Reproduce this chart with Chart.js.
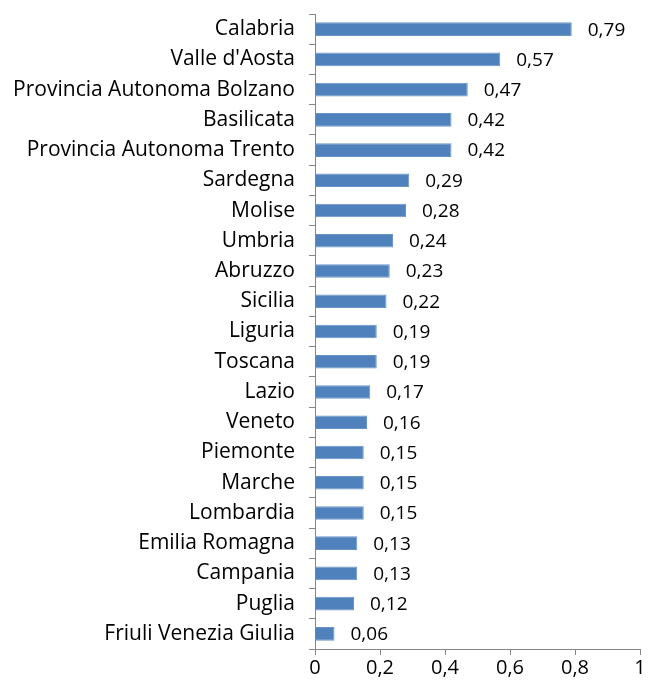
<!DOCTYPE html>
<html>
<head>
<meta charset="utf-8">
<script src="https://cdn.jsdelivr.net/npm/chart.js@4"></script>
<style>
  html, body { margin: 0; padding: 0; background: #fff; }
  #wrap { width: 648px; height: 689px; }
</style>
</head>
<body>
<div id="wrap"><canvas id="chart" width="648" height="689"></canvas></div>
<script>
const regions = ['Calabria', "Valle d'Aosta", 'Provincia Autonoma Bolzano', 'Basilicata',
    'Provincia Autonoma Trento', 'Sardegna', 'Molise', 'Umbria', 'Abruzzo', 'Sicilia',
    'Liguria', 'Toscana', 'Lazio', 'Veneto', 'Piemonte', 'Marche', 'Lombardia',
    'Emilia Romagna', 'Campania', 'Puglia', 'Friuli Venezia Giulia'];
const values = [0.79, 0.57, 0.47, 0.42, 0.42, 0.29, 0.28, 0.24, 0.23, 0.22,
    0.19, 0.19, 0.17, 0.16, 0.15, 0.15, 0.15, 0.13, 0.13, 0.12, 0.06];
const xTicks = [0, 0.2, 0.4, 0.6, 0.8, 1];

const FONT = '"Open Sans", sans-serif';
const comma = v => String(v).replace('.', ',');

const valueLabels = {
    id: 'valueLabels',
    afterDatasetsDraw(chart) {
        const ctx = chart.ctx;
        const meta = chart.getDatasetMeta(0);
        ctx.save();
        ctx.font = '19px ' + FONT;
        ctx.fillStyle = '#000';
        ctx.textAlign = 'left';
        ctx.textBaseline = 'middle';
        meta.data.forEach(function (bar, i) {
            ctx.fillText(comma(values[i].toFixed(2)), bar.x + 16, bar.y + 1);
        });
        ctx.restore();
    }
};

new Chart(document.getElementById('chart').getContext('2d'), {
    type: 'bar',
    data: {
        labels: regions,
        datasets: [{
            data: values,
            backgroundColor: '#4F81BD',
            borderColor: '#6A94C8',
            borderWidth: 1,
            barPercentage: 0.45,
            categoryPercentage: 1
        }]
    },
    options: {
        indexAxis: 'y',
        responsive: false,
        animation: false,
        layout: { padding: { top: 14, right: 8, left: 0, bottom: 0 } },
        plugins: {
            legend: { display: false },
            tooltip: { enabled: false }
        },
        scales: {
            x: {
                min: 0,
                max: 1,
                afterBuildTicks: function (scale) {
                    scale.ticks = xTicks.map(v => ({ value: v }));
                },
                afterFit: function (scale) {
                    scale.height = 40;
                    scale.paddingLeft = 0;
                    scale.paddingRight = 0;
                },
                ticks: {
                    color: '#000',
                    font: { family: FONT, size: 20 },
                    padding: 1,
                    callback: v => comma(v)
                },
                grid: {
                    drawOnChartArea: false,
                    color: '#868686',
                    tickLength: 6
                },
                border: { color: '#868686' }
            },
            y: {
                afterFit: function (scale) {
                    scale.width = 315;
                    scale.paddingTop = 0;
                    scale.paddingBottom = 0;
                },
                ticks: {
                    color: '#000',
                    font: { family: FONT, size: 21 },
                    padding: 14,
                    autoSkip: false
                },
                grid: {
                    offset: true,
                    drawOnChartArea: false,
                    color: '#868686',
                    tickLength: 6
                },
                border: { color: '#868686' }
            }
        }
    },
    plugins: [valueLabels]
});
</script>
</body>
</html>
